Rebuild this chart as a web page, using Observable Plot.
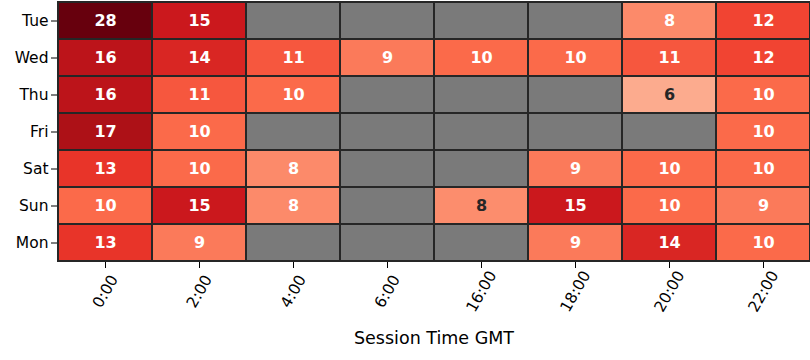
<!DOCTYPE html>
<html>
<head>
<meta charset="utf-8">
<script src="https://cdn.jsdelivr.net/npm/d3@7"></script>
<script src="https://cdn.jsdelivr.net/npm/@observablehq/plot@0.6"></script>
<style>
  html, body { margin: 0; padding: 0; background: #fff; }
  #chart svg { display: block; }
</style>
</head>
<body>
<div id="chart"></div>
<script>
const days = ["Tue", "Wed", "Thu", "Fri", "Sat", "Sun", "Mon"];
const hours = ["0:00", "2:00", "4:00", "6:00", "16:00", "18:00", "20:00", "22:00"];
// null = no data (grey cell)
const tue = [28, 15, null, null, null, null, 8, 12];
const wed = [16, 14, 11, 9, 10, 10, 11, 12];
const thu = [16, 11, 10, null, null, null, 6, 10];
const fri = [17, 10, null, null, null, null, null, 10];
const sat = [13, 10, 8, null, null, 9, 10, 10];
const sun = [10, 15, 8, null, 7.8, 15, 10, 9];
const mon = [13, 9, null, null, null, 9, 14, 10];
const rows = [tue, wed, thu, fri, sat, sun, mon];

const reds = ["#fff5f0","#fee0d2","#fcbba1","#fc9272","#fb6a4a","#ef3b2c","#cb181d","#a50f15","#67000d"];

const all = [];
const cells = [];
days.forEach((day, i) => hours.forEach((hour, j) => {
  all.push({day, hour});
  const v = rows[i][j];
  if (v != null) cells.push({day, hour, value: v});
}));

const font = "DejaVu Sans, sans-serif";
const chart = Plot.plot({
  width: 810,
  height: 360,
  marginLeft: 57,
  marginRight: 0,
  marginTop: 0,
  marginBottom: 98,
  style: {fontFamily: font, fontSize: "15.5px", color: "#000", background: "#fff"},
  x: {domain: hours, padding: 0, label: null},
  y: {domain: days, padding: 0, label: null},
  color: {type: "linear", domain: reds.map((_, i) => i * 20 / 8), range: reds, clamp: true, interpolate: "rgb"},
  marks: [
    Plot.cell(all, {x: "hour", y: "day", fill: "#7a7a7a", stroke: "#262626", strokeWidth: 2, inset: 0}),
    Plot.cell(cells, {x: "hour", y: "day", fill: "value", stroke: "#262626", strokeWidth: 2, inset: 0}),
    Plot.text(cells, {x: "hour", y: "day", text: d => d3.format(".0f")(d.value),
      fill: d => d.value < 7.9 ? "#262626" : "#ffffff", fontWeight: "bold", fontSize: 16}),
    Plot.axisY({tickSize: 6, tickPadding: 3, fontSize: 15.5, label: null}),
    Plot.axisX({tickSize: 6, tickFormat: () => "", label: null}),
    Plot.text(hours, {x: d => d, frameAnchor: "bottom", dy: 29, rotate: -60, textAnchor: "middle",
      lineAnchor: "middle", fontSize: 15.5, fill: "#000"}),
    Plot.text(["Session Time GMT"], {frameAnchor: "bottom", dy: 76, fontSize: 17.5, fill: "#000", lineAnchor: "middle"})
  ]
});
document.getElementById("chart").appendChild(chart);
</script>
</body>
</html>
